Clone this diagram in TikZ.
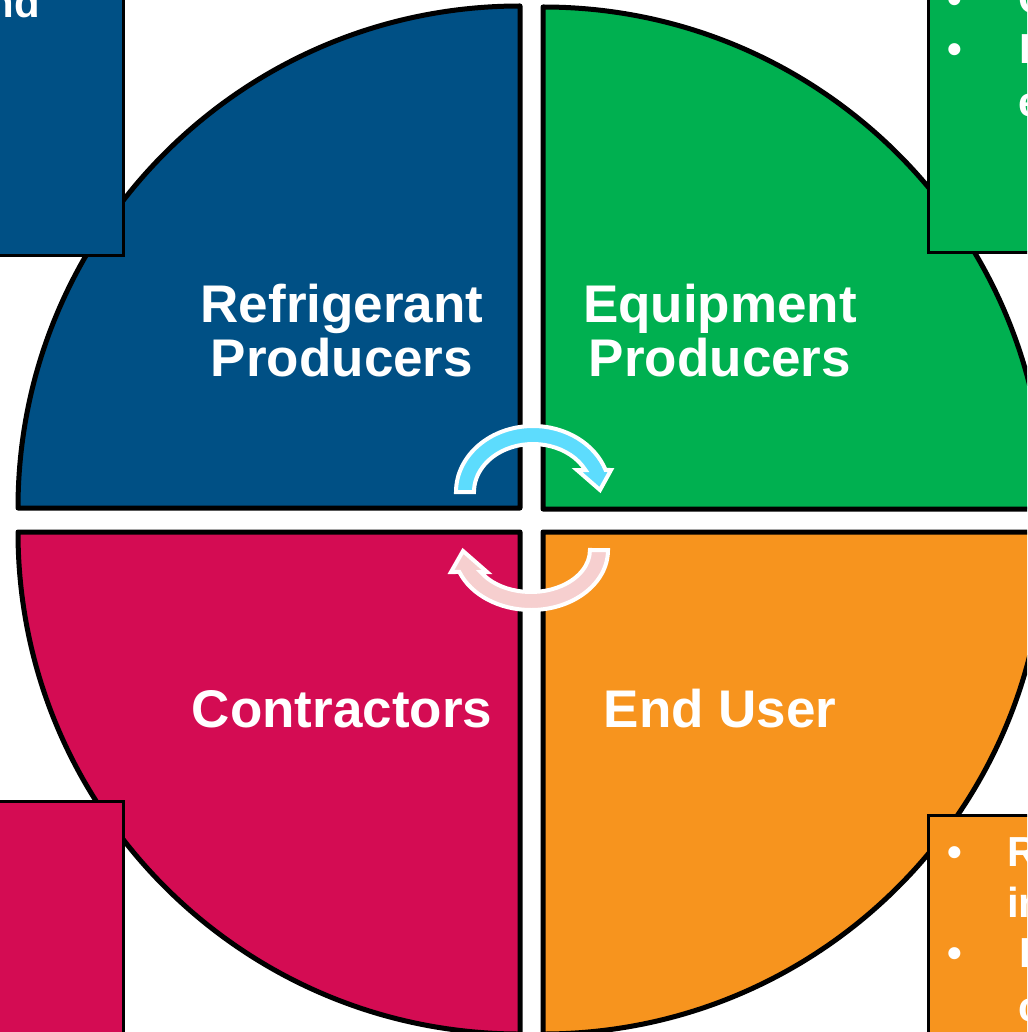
\documentclass[tikz,border=0pt]{standalone}
\usepackage{fontspec}
\setmainfont{Liberation Sans}
\definecolor{qblue}{RGB}{0,80,133}
\definecolor{qgreen}{RGB}{0,176,80}
\definecolor{qred}{RGB}{212,12,83}
\definecolor{qorange}{RGB}{247,148,30}
\definecolor{arrowblue}{RGB}{93,220,253}
\definecolor{arrowpink}{RGB}{246,207,207}
\begin{document}
\begin{tikzpicture}[x=1pt,y=1pt,
  quad/.style={draw=black,line width=5pt,line join=round},
  sidebox/.style={draw=black,line width=3pt},
  biglabel/.style={text=white,font=\bfseries\fontsize{53}{54}\selectfont,align=center,inner sep=0pt},
  boxtext/.style={text=white,font=\bfseries\fontsize{42}{50}\selectfont,inner sep=0pt},
  cyclearrow/.style={draw=white,line width=4pt,line join=miter}
]
\useasboundingbox (0,0) rectangle (1027,-1032);
\clip (0,0) rectangle (1027,-1032);
\fill[white] (0,0) rectangle (1027,-1032);
% quadrants
\path[quad,fill=qblue] (520,-508) -- (18,-508) arc[start angle=180,end angle=90,radius=502pt] -- cycle;
\path[quad,fill=qgreen] (543,-509) -- (543,-7) arc[start angle=90,end angle=0,radius=502pt] -- cycle;
\path[quad,fill=qred] (520,-532) -- (18,-532) arc[start angle=180,end angle=270,radius=502pt] -- cycle;
\path[quad,fill=qorange] (543,-532) -- (1045,-532) arc[start angle=0,end angle=-90,radius=502pt] -- cycle;
% labels (base anchor = baseline of the last line)
\node[biglabel,anchor=base] (refp) at (342,-376) {Refrigerant\\Producers};
\node[biglabel,anchor=base] (eqp) at (720,-376) {Equipment\\Producers};
\node[biglabel,anchor=base] (contr) at (342,-727) {Contractors};
\node[biglabel,anchor=base] (enduser) at (720,-727) {End User};
% cycle arrows
\path[cyclearrow,fill=arrowblue] (456,-492) arc[start angle=180,end angle=19.5,x radius=77pt,y radius=66pt] -- (611,-470) -- (600,-490) -- (577,-470) -- (585.4,-470) arc[start angle=27.3,end angle=180,x radius=59pt,y radius=48pt] -- cycle;
\path[cyclearrow,fill=arrowpink] (608,-550) arc[start angle=0,end angle=-158.5,x radius=77pt,y radius=60pt] -- (451,-572) -- (463,-551) -- (487,-572) -- (480.7,-572) arc[start angle=-148.4,end angle=0,x radius=59pt,y radius=42pt] -- cycle;
% side boxes
\path[sidebox,fill=qblue] (-10,10) rectangle (123,-255);
\path[sidebox,fill=qgreen] (928,10) rectangle (1040,-252);
\path[sidebox,fill=qred] (-10,-801) rectangle (123,-1040);
\path[sidebox,fill=qorange] (928,-815) rectangle (1040,-1040);
% box texts
\node[boxtext,anchor=base east] (tlfrag) at (40,-18) {nd};
\node[boxtext,anchor=base] (gb1) at (955,-14) {•};
\node[boxtext,anchor=base west] (gt1) at (1018,-14) {C};
\node[boxtext,anchor=base] (gb2) at (955,-64) {•};
\node[boxtext,anchor=base west] (gt2) at (1019,-64) {I};
\node[boxtext,anchor=base west] (gt3) at (1018.5,-117) {e};
\node[boxtext,anchor=base] (ob1) at (955,-866) {•};
\node[boxtext,anchor=base west] (ot1) at (1007,-866) {R};
\node[boxtext,anchor=base west] (ot2) at (1007,-917) {in};
\node[boxtext,anchor=base] (ob2) at (955,-967) {•};
\node[boxtext,anchor=base west] (ot3) at (1019,-967) {I};
\node[boxtext,anchor=base west] (ot4) at (1018,-1021) {c};
\end{tikzpicture}
\end{document}
